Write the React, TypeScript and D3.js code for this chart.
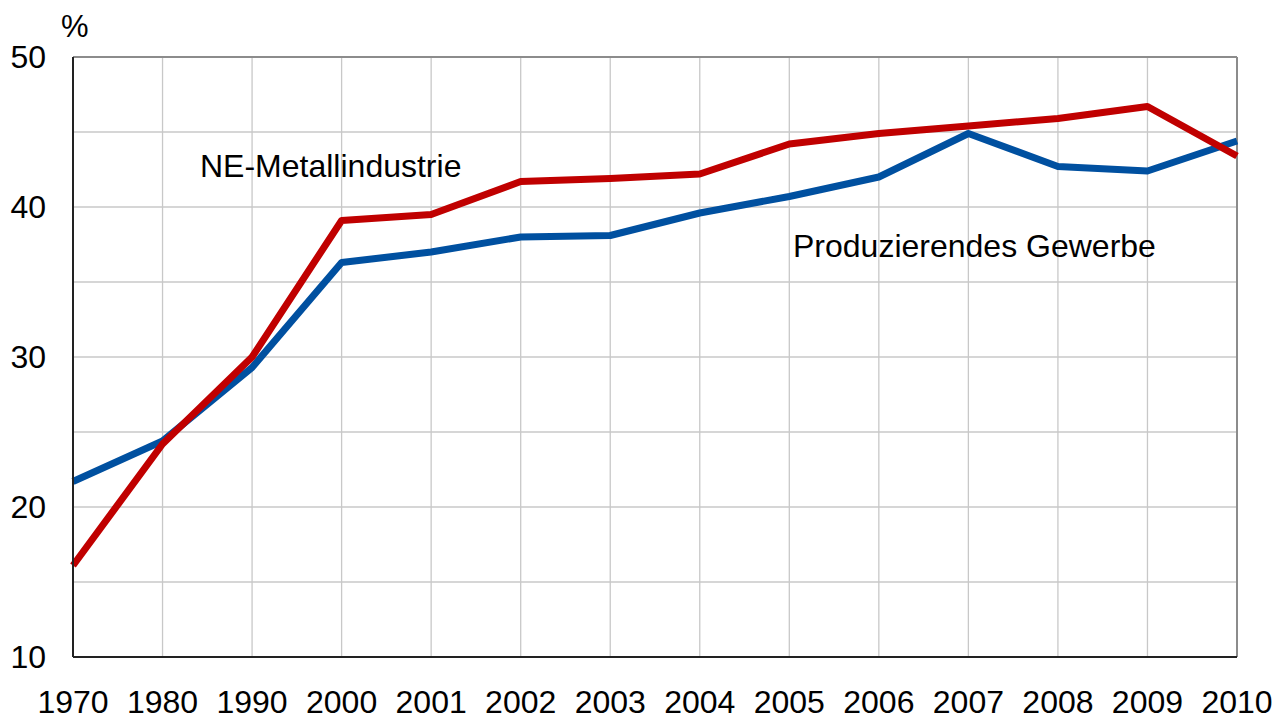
import React from "react";
import * as d3 from "d3";

const years = ["1970","1980","1990","2000","2001","2002","2003","2004","2005","2006","2007","2008","2009","2010"];
const neMetall = [16.1,24.2,30.0,39.1,39.5,41.7,41.9,42.2,44.2,44.9,45.4,45.9,46.7,43.4];
const prodGewerbe = [21.7,24.4,29.3,36.3,37.0,38.0,38.1,39.6,40.7,42.0,44.9,42.7,42.4,44.4];
const yTicks = [10,20,30,40,50];
const yGrid = [15,20,25,30,35,40,45];

export default function App() {
  const W = 1275, H = 717;
  const left = 73, right = 1237, top = 57, bottom = 657;
  const x = d3.scalePoint<string>().domain(years).range([left, right]);
  const y = d3.scaleLinear().domain([10, 50]).range([bottom, top]);
  const line = d3.line<number>().x((_, i) => x(years[i])!).y(d => y(d));
  const font = "'Liberation Sans', Arial, sans-serif";
  return (
    <svg width={W} height={H} style={{ position: "absolute", left: 0, top: 0 }} fontFamily={font}>
      <rect width={W} height={H} fill="#fff" />
      {yGrid.map(v => (
        <line key={"g" + v} x1={left} x2={right} y1={y(v)} y2={y(v)} stroke="#c8c8c8" strokeWidth={1.3} />
      ))}
      {years.slice(1, -1).map(yr => (
        <line key={"v" + yr} x1={x(yr)} x2={x(yr)} y1={top} y2={bottom} stroke="#c8c8c8" strokeWidth={1.3} />
      ))}
      <line x1={left} x2={right} y1={top} y2={top} stroke="#8c8c8c" strokeWidth={2} />
      <line x1={right} x2={right} y1={top} y2={bottom} stroke="#8c8c8c" strokeWidth={2} />
      <path d={line(prodGewerbe)!} fill="none" stroke="#0050a0" strokeWidth={7} strokeLinejoin="round" />
      <path d={line(neMetall)!} fill="none" stroke="#c00000" strokeWidth={7} strokeLinejoin="round" />
      <line x1={left} x2={left} y1={top} y2={bottom} stroke="#222" strokeWidth={2} />
      <line x1={left} x2={right} y1={bottom} y2={bottom} stroke="#222" strokeWidth={2} />
      {yTicks.map(v => (
        <text key={"t" + v} x={46} y={y(v)} dy="0.35em" textAnchor="end" fontSize={32} fill="#000">{v}</text>
      ))}
      {years.map(yr => (
        <text key={"x" + yr} x={x(yr)} y={713} textAnchor="middle" fontSize={32} fill="#000">{yr}</text>
      ))}
      <text x={61} y={37} fontSize={31} fill="#000">%</text>
      <text x={200} y={177} fontSize={32} fill="#000">NE-Metallindustrie</text>
      <text x={793} y={257} fontSize={32} fill="#000">Produzierendes Gewerbe</text>
    </svg>
  );
}
